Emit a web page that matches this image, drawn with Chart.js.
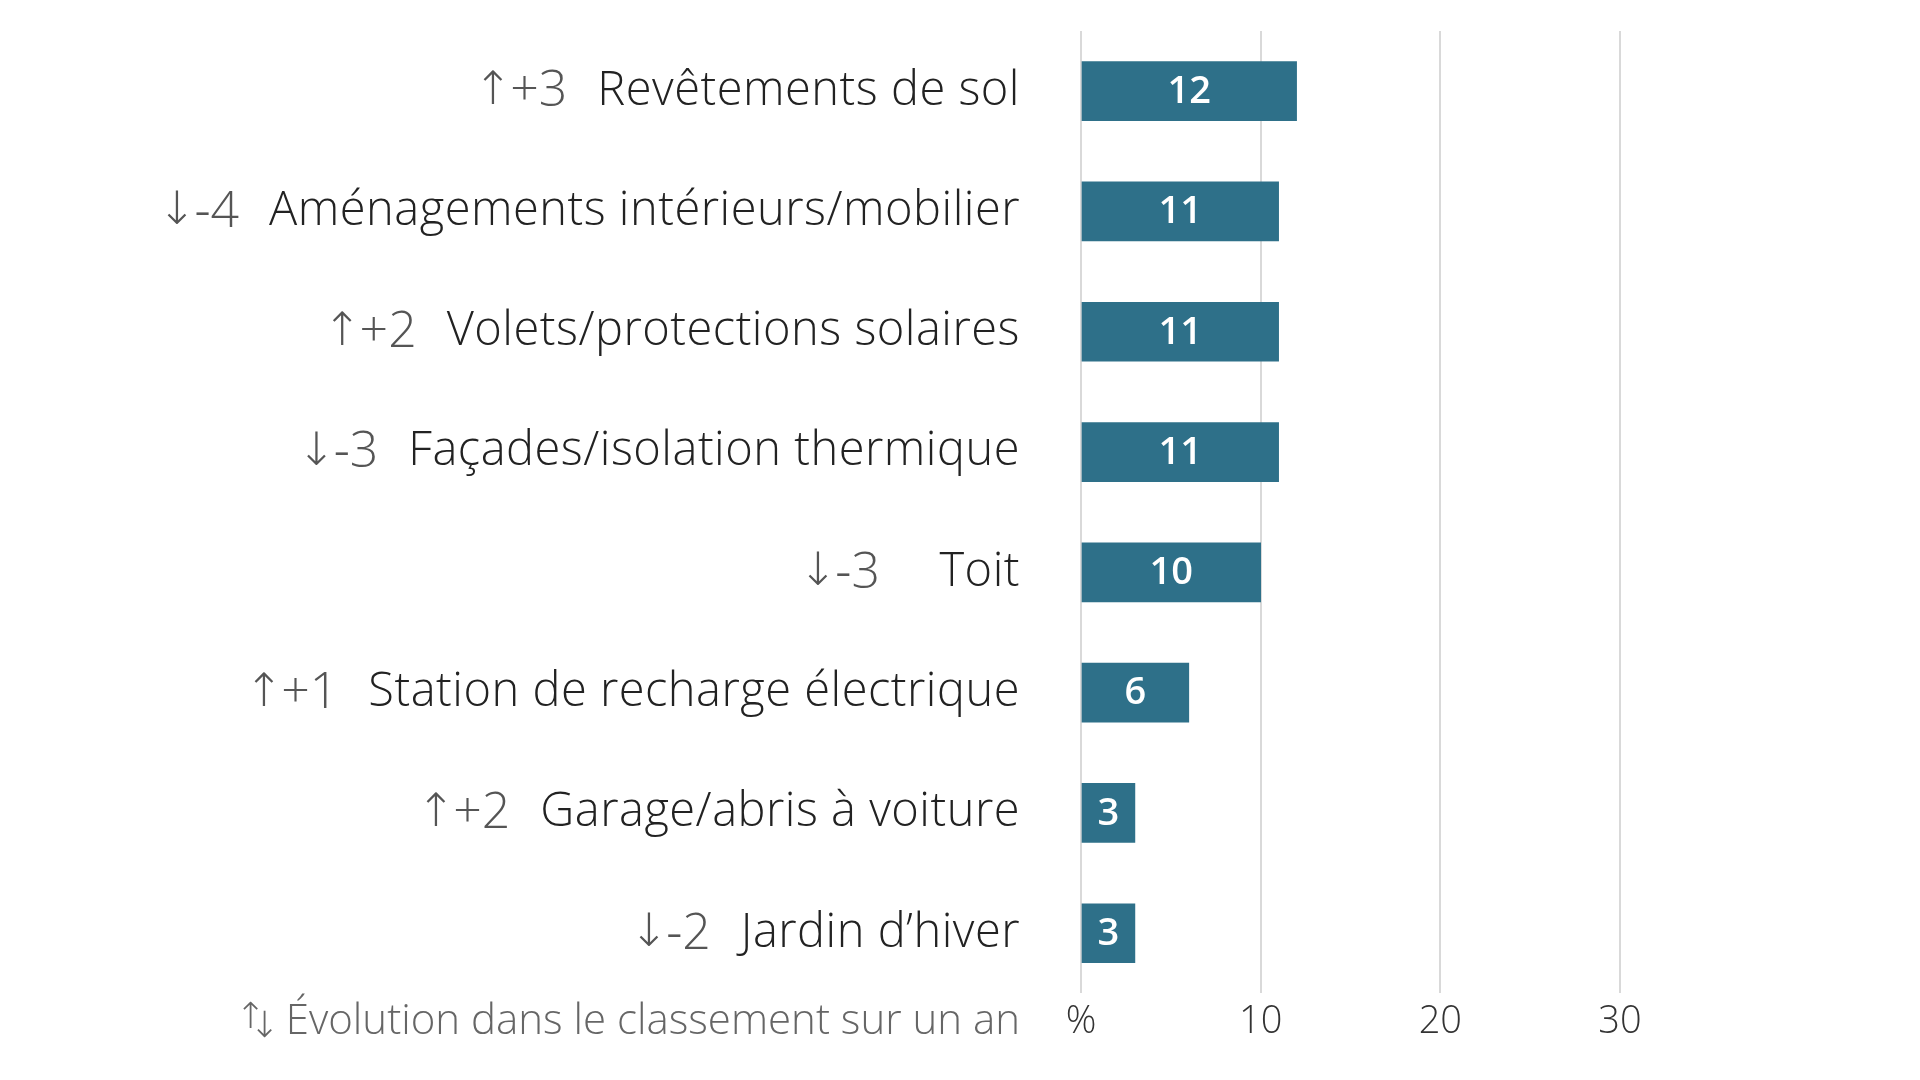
<!DOCTYPE html>
<html>
<head>
<meta charset="utf-8">
<script src="https://cdn.jsdelivr.net/npm/chart.js@4.4.1/dist/chart.umd.min.js"></script>
<style>
  html, body { margin: 0; padding: 0; background: #fff; }
  #wrap { width: 1920px; height: 1080px; }
</style>
</head>
<body>
<div id="wrap"><canvas id="chart" width="1920" height="1080"></canvas></div>
<script>
// data
const categories = [
    'Revêtements de sol',
    'Aménagements intérieurs/mobilier',
    'Volets/protections solaires',
    'Façades/isolation thermique',
    'Toit',
    'Station de recharge électrique',
    'Garage/abris à voiture',
    'Jardin d’hiver'
];
const values = [12, 11, 11, 11, 10, 6, 3, 3];
const rankChanges = [3, -4, 2, -3, -3, 1, 2, -2];
const xTicks = [0, 10, 20, 30];
const footnote = 'Évolution dans le classement sur un an';

const FONT = '"Open Sans", "Noto Sans", sans-serif';
const barColor = '#2e7089';

// draws category labels, rank change and values inside bars
const labelPlugin = {
    id: 'labels',
    afterDatasetsDraw(chart) {
        const ctx = chart.ctx;
        const area = chart.chartArea;
        const meta = chart.getDatasetMeta(0);
        const labelRight = area.left - 61;
        ctx.save();
        ctx.textBaseline = 'middle';
        meta.data.forEach((bar, i) => {
            const y = bar.y;
            // category name
            ctx.font = '300 47px ' + FONT;
            ctx.letterSpacing = '0.5px';
            ctx.fillStyle = '#222';
            ctx.textAlign = 'right';
            ctx.fillText(categories[i], labelRight, y);
            const w = Math.max(ctx.measureText(categories[i]).width, 110);
            ctx.letterSpacing = '0px';
            // rank change
            const ch = rankChanges[i];
            const numText = (ch > 0 ? '+' : '') + ch;
            ctx.font = '300 50px ' + FONT;
            ctx.fillStyle = '#555';
            const numRight = labelRight - w - 30;
            ctx.fillText(numText.replace('-', '‐'), numRight, y + 1);
            const nw = ctx.measureText(numText).width;
            ctx.font = '200 46px "DejaVu Sans", sans-serif';
            ctx.fillText(ch > 0 ? '↑' : '↓', numRight - nw + 2, y + 1);
            // value inside bar
            ctx.font = '600 38px ' + FONT;
            ctx.fillStyle = '#fff';
            ctx.textAlign = 'center';
            ctx.fillText(values[i], (bar.base + bar.x) / 2, y + 1);
        });
        // footnote level with the tick labels
        const fy = area.bottom + 6 + 38 * 1.2 / 2;
        ctx.font = '300 42px ' + FONT;
        ctx.fillStyle = '#666';
        ctx.textAlign = 'right';
        ctx.fillText(footnote, labelRight, fy);
        const fw = ctx.measureText(footnote).width;
        ctx.font = '200 36px "DejaVu Sans", sans-serif';
        ctx.fillText('↓', labelRight - fw - 6, fy + 5);
        ctx.fillText('↑', labelRight - fw - 20, fy - 4);
        ctx.restore();
    }
};

const ctx = document.getElementById('chart').getContext('2d');
const myChart = new Chart(ctx, {
    type: 'bar',
    data: {
        labels: categories,
        datasets: [{
            data: values,
            backgroundColor: barColor,
            borderWidth: 0,
            barThickness: 59
        }]
    },
    options: {
        indexAxis: 'y',
        responsive: false,
        animation: false,
        layout: {
            padding: { left: 1073, right: 300, top: 31, bottom: 29 }
        },
        plugins: {
            legend: { display: false },
            tooltip: { enabled: false }
        },
        scales: {
            x: {
                min: 0,
                max: 30,
                afterBuildTicks: axis => {
                    axis.ticks = xTicks.map(v => ({ value: v }));
                },
                grid: {
                    color: '#d9d9d9',
                    lineWidth: 2,
                    drawTicks: false
                },
                border: { display: false },
                ticks: {
                    padding: 6,
                    color: '#333',
                    font: { family: FONT, size: 38, weight: 300 },
                    callback: v => v === 0 ? '%' : v
                }
            },
            y: {
                grid: { display: false },
                border: { display: false },
                ticks: { display: false }
            }
        }
    },
    plugins: [labelPlugin]
});
</script>
</body>
</html>
